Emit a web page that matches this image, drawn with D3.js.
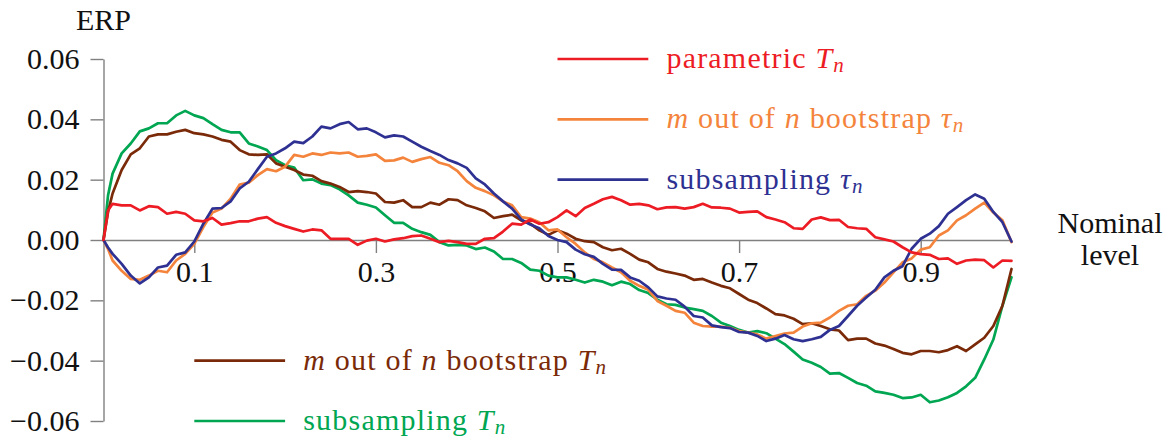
<!DOCTYPE html>
<html>
<head>
<meta charset="utf-8">
<script src="https://cdn.jsdelivr.net/npm/d3@7"></script>
<style>
  body { margin: 0; background: #fff; }
  svg { display: block; }
  svg text { font-family: "Liberation Serif", "DejaVu Serif", "Times New Roman", Tinos, Times, serif; }
</style>
</head>
<body>
<svg id="chart" width="1172" height="439"></svg>
<script>
// Nominal levels at which the error in rejection probability was evaluated
const levels = [0, 0.005, 0.01, 0.02, 0.03, 0.04, 0.05, 0.06, 0.07, 0.08, 0.09, 0.10,
  0.11, 0.12, 0.13, 0.14, 0.15, 0.16, 0.17, 0.18, 0.19, 0.20,
  0.21, 0.22, 0.23, 0.24, 0.25, 0.26, 0.27, 0.28, 0.29, 0.30,
  0.31, 0.32, 0.33, 0.34, 0.35, 0.36, 0.37, 0.38, 0.39, 0.40,
  0.41, 0.42, 0.43, 0.44, 0.45, 0.46, 0.47, 0.48, 0.49, 0.50,
  0.51, 0.52, 0.53, 0.54, 0.55, 0.56, 0.57, 0.58, 0.59, 0.60,
  0.61, 0.62, 0.63, 0.64, 0.65, 0.66, 0.67, 0.68, 0.69, 0.70,
  0.71, 0.72, 0.73, 0.74, 0.75, 0.76, 0.77, 0.78, 0.79, 0.80,
  0.81, 0.82, 0.83, 0.84, 0.85, 0.86, 0.87, 0.88, 0.89, 0.90,
  0.91, 0.92, 0.93, 0.94, 0.95, 0.96, 0.97, 0.98, 0.99, 1.00];

// ERP of each procedure, one value per nominal level
const parametricT = [0, 0.0098, 0.0120, 0.0115, 0.0115, 0.0098, 0.0112, 0.0109, 0.0087, 0.0093, 0.0087, 0.0065,
  0.0062, 0.0073, 0.0051, 0.0056, 0.0062, 0.0062, 0.0071, 0.0076, 0.0057, 0.0046,
  0.0037, 0.0028, 0.0035, 0.0032, 0.0004, 0.0004, 0.0004, -0.0016, -0.0002, 0.0004,
  -0.0005, 0.0002, 0.0006, 0.0013, 0.0015, 0.0004, -0.0007, -0.0003, -0.0007, -0.0013,
  -0.0013, 0.0004, 0.0006, 0.0028, 0.0054, 0.0051, 0.0068, 0.0054, 0.0059, 0.0076,
  0.0098, 0.0079, 0.0106, 0.0120, 0.0135, 0.0143, 0.0132, 0.0117, 0.0120, 0.0115,
  0.0102, 0.0108, 0.0109, 0.0104, 0.0109, 0.0120, 0.0108, 0.0107, 0.0104, 0.0091,
  0.0093, 0.0095, 0.0076, 0.0068, 0.0059, 0.0039, 0.0037, 0.0068, 0.0075, 0.0066,
  0.0067, 0.0043, 0.0039, 0.0037, 0.0009, 0.0002, -0.0005, -0.0024, -0.0041, -0.0047,
  -0.0049, -0.0063, -0.0061, -0.0079, -0.0068, -0.0065, -0.0067, -0.0091, -0.0068, -0.0069];

const bootstrapTau = [0, -0.0030, -0.0068, -0.0102, -0.0129, -0.0132, -0.0118, -0.0102, -0.0107, -0.0068, -0.0046, -0.0013,
  0.0043, 0.0091, 0.0104, 0.0137, 0.0184, 0.0190, 0.0215, 0.0235, 0.0228, 0.0243,
  0.0282, 0.0276, 0.0287, 0.0282, 0.0290, 0.0287, 0.0290, 0.0276, 0.0279, 0.0284,
  0.0262, 0.0264, 0.0273, 0.0259, 0.0268, 0.0275, 0.0256, 0.0248, 0.0228, 0.0195,
  0.0173, 0.0162, 0.0148, 0.0128, 0.0115, 0.0076, 0.0071, 0.0059, 0.0032, 0.0035,
  0.0009, -0.0013, -0.0041, -0.0063, -0.0074, -0.0091, -0.0107, -0.0135, -0.0152, -0.0165,
  -0.0202, -0.0218, -0.0235, -0.0241, -0.0274, -0.0285, -0.0287, -0.0287, -0.0291, -0.0302,
  -0.0307, -0.0313, -0.0327, -0.0318, -0.0310, -0.0307, -0.0287, -0.0276, -0.0274, -0.0257,
  -0.0235, -0.0218, -0.0213, -0.0185, -0.0168, -0.0141, -0.0107, -0.0074, -0.0061, -0.0032,
  -0.0024, 0.0015, 0.0032, 0.0065, 0.0082, 0.0104, 0.0124, 0.0091, 0.0065, -0.0007];

const subsamplingTau = [0, -0.0025, -0.0046, -0.0079, -0.0118, -0.0144, -0.0124, -0.0091, -0.0085, -0.0049, -0.0041, -0.0005,
  0.0054, 0.0104, 0.0106, 0.0128, 0.0171, 0.0193, 0.0235, 0.0276, 0.0287, 0.0304,
  0.0326, 0.0321, 0.0343, 0.0376, 0.0370, 0.0384, 0.0391, 0.0367, 0.0370, 0.0357,
  0.0340, 0.0347, 0.0343, 0.0326, 0.0309, 0.0295, 0.0282, 0.0265, 0.0254, 0.0239,
  0.0204, 0.0184, 0.0154, 0.0128, 0.0104, 0.0068, 0.0051, 0.0039, 0.0013, 0.0000,
  -0.0007, -0.0032, -0.0047, -0.0056, -0.0079, -0.0098, -0.0099, -0.0124, -0.0135, -0.0157,
  -0.0187, -0.0194, -0.0198, -0.0221, -0.0252, -0.0257, -0.0283, -0.0289, -0.0292, -0.0305,
  -0.0307, -0.0318, -0.0335, -0.0327, -0.0315, -0.0329, -0.0335, -0.0329, -0.0321, -0.0298,
  -0.0285, -0.0252, -0.0218, -0.0191, -0.0165, -0.0124, -0.0102, -0.0087, -0.0029, 0.0004,
  0.0021, 0.0046, 0.0087, 0.0109, 0.0132, 0.0151, 0.0137, 0.0093, 0.0059, -0.0005];

const bootstrapT = [0, 0.0093, 0.0154, 0.0232, 0.0284, 0.0304, 0.0343, 0.0350, 0.0350, 0.0359, 0.0365, 0.0354,
  0.0350, 0.0343, 0.0332, 0.0326, 0.0298, 0.0284, 0.0282, 0.0284, 0.0254, 0.0243,
  0.0232, 0.0217, 0.0213, 0.0195, 0.0187, 0.0176, 0.0159, 0.0162, 0.0159, 0.0154,
  0.0126, 0.0124, 0.0132, 0.0109, 0.0109, 0.0124, 0.0117, 0.0135, 0.0132, 0.0115,
  0.0106, 0.0095, 0.0073, 0.0079, 0.0084, 0.0065, 0.0054, 0.0032, 0.0017, 0.0032,
  0.0021, 0.0004, -0.0004, -0.0007, -0.0024, -0.0034, -0.0029, -0.0046, -0.0065, -0.0074,
  -0.0096, -0.0105, -0.0111, -0.0118, -0.0132, -0.0129, -0.0141, -0.0152, -0.0160, -0.0179,
  -0.0198, -0.0209, -0.0227, -0.0246, -0.0250, -0.0261, -0.0279, -0.0276, -0.0285, -0.0296,
  -0.0300, -0.0332, -0.0327, -0.0327, -0.0343, -0.0350, -0.0361, -0.0374, -0.0379, -0.0368,
  -0.0368, -0.0372, -0.0365, -0.0352, -0.0368, -0.0346, -0.0324, -0.0285, -0.0218, -0.0096];

const subsamplingT = [0, 0.0148, 0.0220, 0.0287, 0.0320, 0.0360, 0.0370, 0.0387, 0.0387, 0.0413, 0.0428, 0.0413,
  0.0404, 0.0384, 0.0365, 0.0357, 0.0357, 0.0320, 0.0310, 0.0298, 0.0265, 0.0248,
  0.0240, 0.0198, 0.0201, 0.0187, 0.0182, 0.0168, 0.0148, 0.0124, 0.0117, 0.0108,
  0.0082, 0.0057, 0.0057, 0.0037, 0.0026, 0.0017, -0.0007, -0.0018, -0.0016, -0.0018,
  -0.0030, -0.0025, -0.0038, -0.0063, -0.0063, -0.0076, -0.0098, -0.0102, -0.0118, -0.0124,
  -0.0124, -0.0132, -0.0141, -0.0132, -0.0138, -0.0150, -0.0138, -0.0146, -0.0166, -0.0176,
  -0.0198, -0.0213, -0.0215, -0.0224, -0.0229, -0.0235, -0.0252, -0.0274, -0.0285, -0.0298,
  -0.0307, -0.0302, -0.0309, -0.0327, -0.0345, -0.0370, -0.0396, -0.0407, -0.0421, -0.0443,
  -0.0441, -0.0457, -0.0474, -0.0483, -0.0502, -0.0507, -0.0513, -0.0524, -0.0522, -0.0513,
  -0.0538, -0.0532, -0.0521, -0.0507, -0.0485, -0.0457, -0.0396, -0.0330, -0.0218, -0.0124];

// Axis tick values
const xTicks = [0.1, 0.3, 0.5, 0.7, 0.9];
const yTicks = [-0.06, -0.04, -0.02, 0.00, 0.02, 0.04, 0.06];

// Series definitions; label pieces: r = roman, i = italic, s = italic subscript
const series = [
  { values: subsamplingT, color: "#00a651",
    label: [["subsampling ", "r"], ["T", "i"], ["n", "s"]] },
  { values: bootstrapT, color: "#7a2a08",
    label: [["m", "i"], [" out of ", "r"], ["n", "i"], [" bootstrap ", "r"], ["T", "i"], ["n", "s"]] },
  { values: bootstrapTau, color: "#f4843c",
    label: [["m", "i"], [" out of ", "r"], ["n", "i"], [" bootstrap ", "r"], ["\u03c4", "i"], ["n", "s"]] },
  { values: subsamplingTau, color: "#2e3192",
    label: [["subsampling ", "r"], ["\u03c4", "i"], ["n", "s"]] },
  { values: parametricT, color: "#ed1c24",
    label: [["parametric ", "r"], ["T", "i"], ["n", "s"]] }
];

const svg = d3.select("#chart");
const FONT = 30;
const SERIF = '"Liberation Serif", "DejaVu Serif", "Times New Roman", Tinos, Times, serif';
const axisColor = "#808080";

const x = d3.scaleLinear().domain([0, 1]).range([103.5, 1011.5]);
const y = d3.scaleLinear().domain([-0.06, 0.06]).range([421, 59]);

// y axis on the left edge of the plot
const yAxis = svg.append("g")
  .attr("transform", `translate(${x(0)},0)`)
  .call(d3.axisLeft(y).tickValues(yTicks).tickSize(13).tickSizeOuter(0).tickPadding(11)
    .tickFormat(d3.format(".2f")));

// x axis through zero with ticks pointing down
const xAxis = svg.append("g")
  .attr("transform", `translate(0,${y(0)})`)
  .call(d3.axisBottom(x).tickValues(xTicks).tickSize(13).tickSizeOuter(0)
    .tickFormat(d3.format(".1f")));

[yAxis, xAxis].forEach(g => {
  g.attr("font-family", null).attr("font-size", null);
  g.select(".domain").attr("stroke", axisColor).attr("stroke-width", 1.4);
  g.selectAll(".tick line").attr("stroke", axisColor).attr("stroke-width", 1.4);
  g.selectAll(".tick text").attr("fill", "#111")
    .attr("font-family", SERIF).attr("font-size", FONT);
});
xAxis.selectAll(".tick text").attr("y", 42).attr("dy", 0);

// Curves
const line = d3.line()
  .x((d, i) => x(levels[i]))
  .y(d => y(d))
  .curve(d3.curveLinear);

svg.append("g").selectAll("path.curve")
  .data(series)
  .join("path")
  .attr("class", "curve")
  .attr("fill", "none")
  .attr("stroke", d => d.color)
  .attr("stroke-width", 2.7)
  .attr("stroke-linejoin", "round")
  .attr("stroke-linecap", "round")
  .attr("d", d => line(d.values));

// Rich label with italics and subscripts
function richText(sel, pieces) {
  pieces.forEach(([t, kind], k) => {
    const prev = k > 0 ? pieces[k - 1][1] : null;
    const ts = sel.append("tspan").text(t);
    if (kind === "i" || kind === "s") ts.attr("font-style", "italic");
    if (kind === "s") ts.attr("font-size", FONT * 0.7).attr("dy", 4);
    else if (prev === "s") ts.attr("dy", -4);
  });
}

// Legend: three entries top-middle, two bottom-left, placed in data coordinates
const legendSlots = [
  { x0: 0.1, x1: 0.2, tx: 0.22, yv: -0.06 },  // subsampling T
  { x0: 0.1, x1: 0.2, tx: 0.22, yv: -0.04 },  // bootstrap T
  { x0: 0.5, x1: 0.6, tx: 0.62, yv: 0.04 },   // bootstrap tau
  { x0: 0.5, x1: 0.6, tx: 0.62, yv: 0.02 },   // subsampling tau
  { x0: 0.5, x1: 0.6, tx: 0.62, yv: 0.06 }    // parametric T
];
const legend = svg.append("g");
series.forEach((s, i) => {
  const slot = legendSlots[i];
  legend.append("line")
    .attr("x1", x(slot.x0)).attr("x2", x(slot.x1))
    .attr("y1", y(slot.yv)).attr("y2", y(slot.yv))
    .attr("stroke", s.color).attr("stroke-width", 2.7);
  const t = legend.append("text")
    .attr("x", x(slot.tx)).attr("y", y(slot.yv) + 9)
    .attr("fill", s.color)
    .attr("letter-spacing", 1.2)
    .attr("font-family", SERIF).attr("font-size", FONT);
  richText(t, s.label);
});

// Axis titles
svg.append("text")
  .attr("x", x(0)).attr("y", 30)
  .attr("text-anchor", "middle")
  .attr("font-family", SERIF).attr("font-size", FONT).attr("fill", "#111")
  .text("ERP");

const xTitle = svg.append("text")
  .attr("text-anchor", "middle")
  .attr("font-family", SERIF).attr("font-size", FONT).attr("fill", "#111");
xTitle.append("tspan").attr("x", 1110).attr("y", 233).text("Nominal");
xTitle.append("tspan").attr("x", 1110).attr("y", 265).text("level");
</script>
</body>
</html>
